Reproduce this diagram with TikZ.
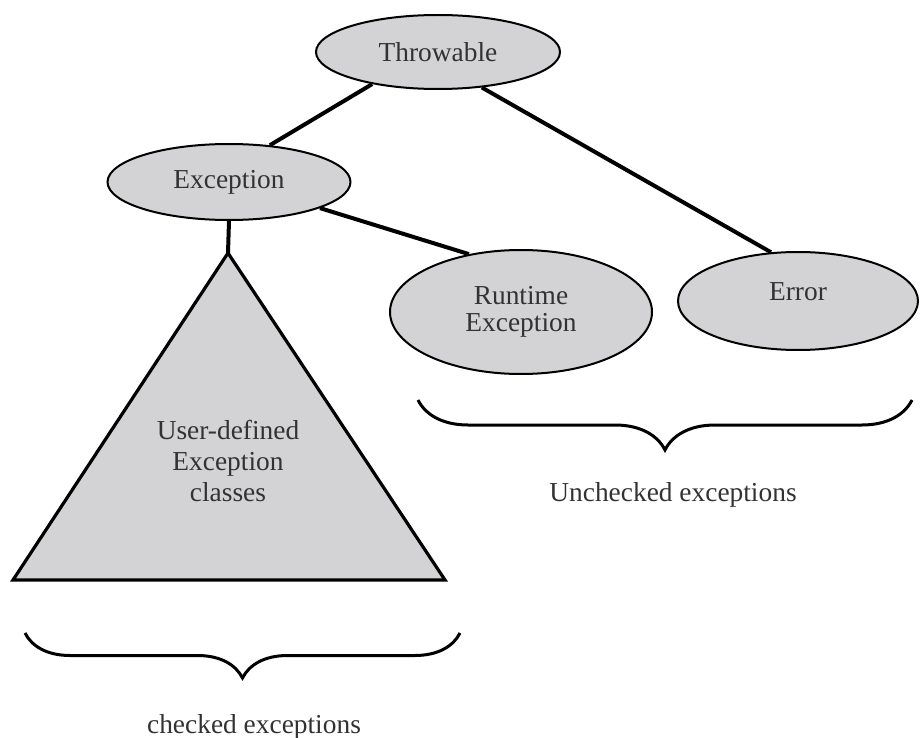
\documentclass[tikz,border=0pt]{standalone}
\usepackage{fontspec}
\setmainfont{Liberation Serif}
\usetikzlibrary{shapes.geometric,decorations.pathreplacing}
\definecolor{nodegray}{RGB}{211,211,213}
\definecolor{textgray}{RGB}{50,50,50}
\tikzset{
  VertexStyle/.style = {ellipse, draw = black, line width = 1pt, fill = nodegray,
                        inner sep = 0pt, align = center, text = textgray,
                        font = \fontsize{13.7}{13.5}\selectfont},
  EdgeStyle/.style   = {line width = 2pt},
  BraceStyle/.style  = {decorate, line width = 1.5pt,
                        decoration = {brace, mirror, amplitude = #1}},
  TextStyle/.style   = {text = textgray, align = center,
                        font = \fontsize{13.7}{15.5}\selectfont}
}

\begin{document}
\begin{tikzpicture}[x=0.5pt,y=-0.5pt]
      \useasboundingbox (0,0) rectangle (922,738);

      % Vertices
      \node[VertexStyle, minimum width = 122pt, minimum height = 37pt] (throwable) at (438,52) {Throwable};
      \node[VertexStyle, minimum width = 121.5pt, minimum height = 38pt] (exception) at (229,182) {Exception};
      \node[VertexStyle, minimum width = 131pt, minimum height = 62pt] (runtime) at (521,312) {Runtime\\Exception};
      \node[VertexStyle, minimum width = 120pt, minimum height = 49pt, text depth = 9pt] (error) at (798,301) {Error};

      % Triangle
      \coordinate (apex) at (228,253);
      \coordinate (baseL) at (13,580);
      \coordinate (baseR) at (445,580);
      \draw[fill = nodegray, line width = 1.6pt] (apex) -- (baseR) -- (baseL) -- cycle;
      \node[TextStyle] (userdef) at (228,461) {User-defined\\Exception\\classes};

      % Edges
      \draw[EdgeStyle] (throwable.206) -- (exception.42);
      \draw[EdgeStyle] (throwable.321) -- (error.119);
      \draw[EdgeStyle] (exception.344) -- (runtime.132);
      \draw[EdgeStyle] (exception.south) -- (apex);

      % Braces
      \draw[BraceStyle = 22.5pt] (25,633) -- (460,633);
      \draw[BraceStyle = 25pt] (418,400) -- (912,400);
      \node[TextStyle] (checked) at (254,727) {checked exceptions};
      \node[TextStyle] (unchecked) at (673,495) {Unchecked exceptions};
\end{tikzpicture}
\end{document}
